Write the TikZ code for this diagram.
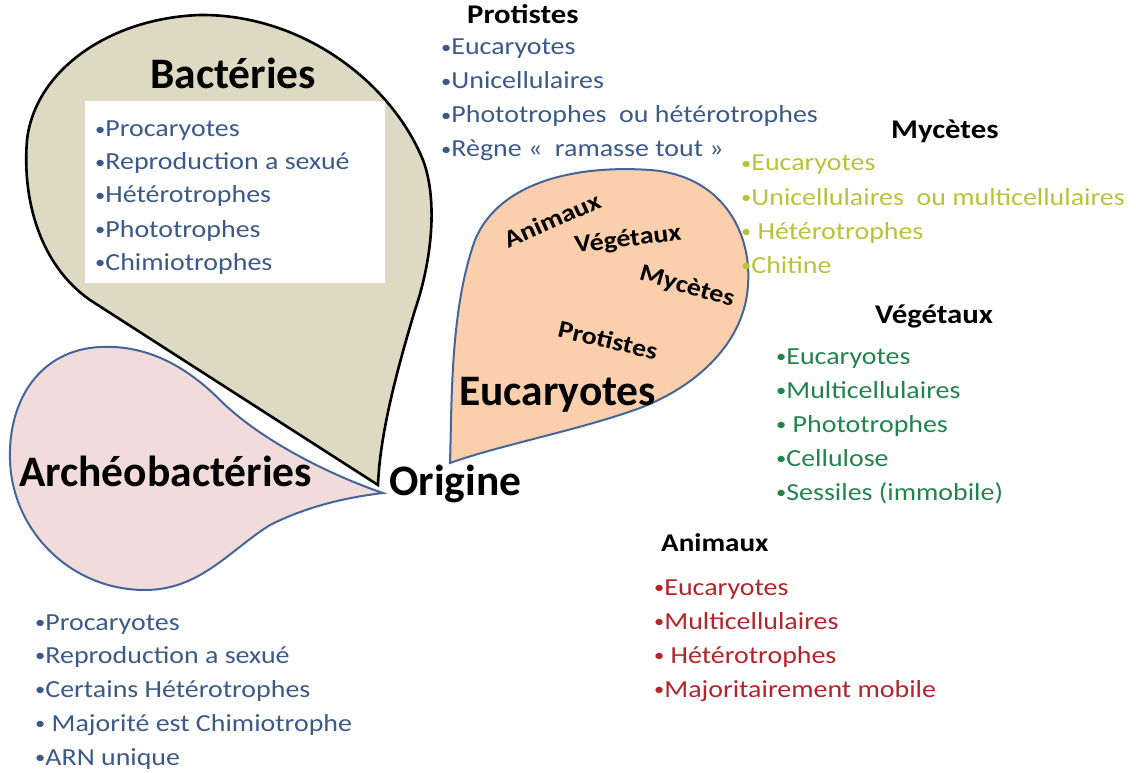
\documentclass[tikz,border=0pt]{standalone}
\usepackage{fontspec}
\setmainfont{Carlito}
\definecolor{bactfill}{HTML}{DDD9C3}
\definecolor{archfill}{HTML}{F2DCDB}
\definecolor{eucfill}{HTML}{FBCFAB}
\definecolor{outl}{HTML}{44659A}
\definecolor{tblue}{HTML}{3C5A87}
\definecolor{tyell}{HTML}{B9C23A}
\definecolor{tgreen}{HTML}{23834C}
\definecolor{tred}{HTML}{B3242B}
\newcommand{\bul}{{\fontsize{18}{18}\selectfont\raisebox{1.5pt}{•}}}
\newcommand{\hs}[1]{\scalebox{1.14}[1]{#1}}
\begin{document}
\begin{tikzpicture}[x=1pt,y=-1pt,
  item/.style={anchor=base west, inner sep=0pt, font=\fontsize{24.5}{28}\selectfont},
  subhead/.style={anchor=base west, inner sep=0pt, font=\bfseries\fontsize{27}{30}\selectfont},
  bighead/.style={anchor=base west, inner sep=0pt, font=\bfseries\fontsize{43.5}{48}\selectfont},
  inlabel/.style={inner sep=0pt, font=\bfseries\fontsize{24.5}{28}\selectfont}]
\useasboundingbox (0,0) rectangle (1136,773);
% Bacteries shape
\draw[line width=2.6pt, fill=bactfill, line join=miter] (378,485) .. controls (300,435) and (160,345) .. (90,300)
  .. controls (40,265) and (22,200) .. (27,140)
  .. controls (35,70) and (110,18) .. (200,15)
  .. controls (300,14) and (390,80) .. (423,160)
  .. controls (438,200) and (432,260) .. (415,310)
  .. controls (400,360) and (380,430) .. (378,485) -- cycle;
\fill[white] (85,101) rectangle (385,283);
% Archeobacteries shape
\draw[line width=2pt, draw=outl, fill=archfill] (383,493) .. controls (330,475) and (260,440) .. (220,400)
  .. controls (180,360) and (140,345) .. (100,347)
  .. controls (40,350) and (8,400) .. (10,460)
  .. controls (12,530) and (70,590) .. (145,590)
  .. controls (200,590) and (230,550) .. (270,525)
  .. controls (310,505) and (350,497) .. (383,493) -- cycle;
% Eucaryotes shape
\draw[line width=2pt, draw=outl, fill=eucfill] (450,463) .. controls (452,400) and (450,310) .. (475,240)
  .. controls (500,180) and (580,165) .. (650,170)
  .. controls (720,175) and (752,230) .. (748,285)
  .. controls (745,340) and (700,385) .. (640,408)
  .. controls (580,430) and (500,445) .. (450,463) -- cycle;
% headings
\node[bighead] (hbact) at (150,89) {Bactéries};
\node[bighead] (harch) at (19,486) {Archéobactéries};
\node[bighead] (heuc) at (459,405) {Eucaryotes};
\node[bighead] (horig) at (389,495) {Origine};
\node[subhead] (hprot) at (467,24) {\hs{Protistes}};
\node[subhead] (hmyc) at (891,139) {\hs{Mycètes}};
\node[subhead] (hveg) at (875,323) {\hs{Végétaux}};
\node[subhead, font=\bfseries\fontsize{25.5}{28}\selectfont] (hani) at (661,551) {\hs{Animaux}};
% labels inside Eucaryotes
\node[inlabel, rotate=24] (lani) at (552,220) {\hs{Animaux}};
\node[inlabel, rotate=7] (lveg) at (628,240) {\hs{Végétaux}};
\node[inlabel, rotate=-16] (lmyc) at (687,287) {\hs{Mycètes}};
\node[inlabel, rotate=-13] (lpro) at (608,340) {\hs{Protistes}};
% Bacteries list
\foreach \t/\y [count=\i] in {{Procaryotes}/137, {Reproduction a sexué}/170, {Hétérotrophes}/203, {Phototrophes}/237, {Chimiotrophes}/270}
  \node[item, text=tblue] (b\i) at (95,\y) {\hs{\bul\t}};
% Protistes list
\foreach \t/\y [count=\i] in {{Eucaryotes}/55, {Unicellulaires}/89, {Phototrophes~ ou hétérotrophes}/123, {Règne «~ ramasse tout »}/157}
  \node[item, text=tblue] (p\i) at (441,\y) {\hs{\bul\t}};
% Mycetes list
\foreach \t/\y [count=\i] in {{Eucaryotes}/171, {Unicellulaires~ ou multicellulaires}/205, {~Hétérotrophes}/239, {Chitine}/273}
  \node[item, text=tyell] (m\i) at (741,\y) {\hs{\bul\t}};
% Vegetaux list
\foreach \t/\y [count=\i] in {{Eucaryotes}/364, {Multicellulaires}/398, {~Phototrophes}/432, {Cellulose}/466, {Sessiles (immobile)}/500}
  \node[item, text=tgreen] (v\i) at (776,\y) {\hs{\bul\t}};
% Animaux list
\foreach \t/\y [count=\i] in {{Eucaryotes}/595, {Multicellulaires}/629, {~Hétérotrophes}/663, {Majoritairement mobile}/697}
  \node[item, text=tred] (a\i) at (654,\y) {\hs{\bul\t}};
% Archeobacteries list
\foreach \t/\y [count=\i] in {{Procaryotes}/630, {Reproduction a sexué}/663, {Certains Hétérotrophes}/697, {~Majorité est Chimiotrophe}/731, {ARN unique}/765}
  \node[item, text=tblue] (r\i) at (35,\y) {\hs{\bul\t}};
\end{tikzpicture}
\end{document}
